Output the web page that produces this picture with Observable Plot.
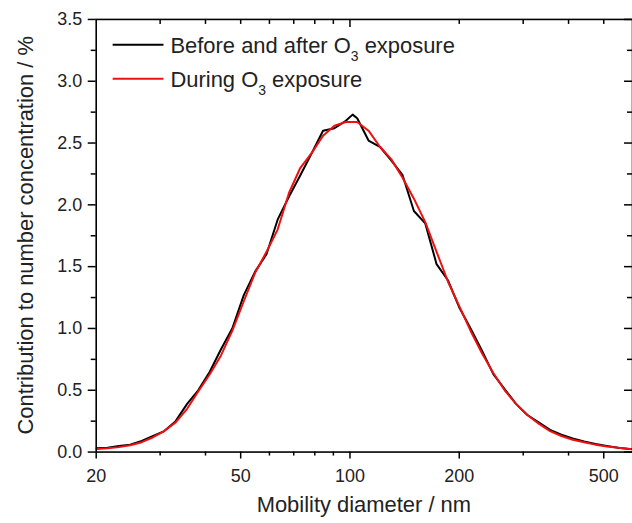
<!DOCTYPE html>
<html><head><meta charset="utf-8">
<script src="https://cdn.jsdelivr.net/npm/d3@7"></script>
<script src="https://cdn.jsdelivr.net/npm/@observablehq/plot@0.6"></script>
<style>
html,body{margin:0;padding:0;background:#fff;overflow:hidden;width:632px;height:523px}
#chart{position:relative;width:632px;height:523px;overflow:hidden}
</style></head><body><div id="chart"></div>
<script>
// Mobility diameter (nm)
const diameters = [20.0,21.5,23.1,24.8,26.7,28.7,30.8,33.1,35.6,38.2,41.1,44.1,47.4,51.0,54.8,58.9,63.2,68.0,73.0,78.5,84.3,90.6,97.4,101.7,104.7,112.5,120.9,129.9,139.6,150.0,161.2,173.2,186.1,200,214.9,231.0,248.2,266.7,286.6,308.0,331.0,355.7,382.2,410.7,441.4,474.3,509.7,547.7,588.6,632.5];
// Contribution to number concentration (%)
const beforeAfter = [0.03,0.035,0.05,0.06,0.09,0.13,0.17,0.25,0.39,0.50,0.65,0.83,1.00,1.27,1.46,1.60,1.88,2.07,2.24,2.42,2.60,2.62,2.68,2.73,2.70,2.52,2.47,2.36,2.24,1.95,1.85,1.52,1.39,1.17,1.00,0.82,0.63,0.51,0.39,0.30,0.24,0.18,0.14,0.11,0.085,0.065,0.05,0.035,0.025,0.02];
const during = [0.025,0.03,0.04,0.055,0.08,0.12,0.17,0.24,0.35,0.49,0.63,0.78,0.98,1.22,1.45,1.62,1.80,2.10,2.30,2.42,2.56,2.64,2.67,2.67,2.67,2.60,2.47,2.37,2.22,2.05,1.86,1.62,1.38,1.18,0.98,0.80,0.64,0.50,0.39,0.30,0.23,0.17,0.13,0.10,0.08,0.06,0.045,0.035,0.025,0.02];

const seriesLabels = ["Before and after O", "During O"];
const seriesColors = ["#000000", "#ee1111"];

const yMajorTicks = [0, 0.5, 1.0, 1.5, 2.0, 2.5, 3.0, 3.5];
const yMinorTicks = [0.25, 0.75, 1.25, 1.75, 2.25, 2.75, 3.25];
const xLabelTicks = [20, 50, 100, 200, 500];
const xMinorTicks = [30, 40, 60, 70, 80, 90, 300, 400];
const topLongTicks = [100];
const topShortTicks = [30, 40, 50, 60, 70, 80, 90, 200, 300, 400, 500];

const rowsA = diameters.map((d, i) => ({d, v: beforeAfter[i]}));
const rowsB = diameters.map((d, i) => ({d, v: during[i]}));

const W = 634, H = 523, mL = 96, mR = 0, mT = 19, mB = 70;
const FW = W - mL - mR, FH = H - mT - mB;
const tk = {stroke: "#000", strokeWidth: 1.5};
const id = d => d;

const plot = Plot.plot({
  width: W, height: H,
  marginLeft: mL, marginRight: mR, marginTop: mT, marginBottom: mB,
  style: {fontFamily: "'Liberation Sans', Arial, sans-serif", fontSize: "18px", color: "#000", background: "#fff"},
  x: {type: "log", domain: [20, 600], axis: null},
  y: {domain: [0, 3.5], axis: null},
  marks: [
    Plot.line(rowsA, {x: "d", y: "v", stroke: seriesColors[0], strokeWidth: 2, clip: true}),
    Plot.line(rowsB, {x: "d", y: "v", stroke: seriesColors[1], strokeWidth: 2, clip: true}),
    Plot.frame({stroke: "#000", strokeWidth: 1.6}),
    // left ticks (outward)
    Plot.tickY(yMajorTicks, {y: id, insetRight: FW - 8, dx: -8, ...tk}),
    Plot.tickY(yMinorTicks, {y: id, insetRight: FW - 5, dx: -5, ...tk}),
    // right ticks (inward)
    Plot.tickY(yMajorTicks, {y: id, insetLeft: FW - 8, ...tk}),
    Plot.tickY(yMinorTicks, {y: id, insetLeft: FW - 5, ...tk}),
    // bottom ticks (outward)
    Plot.tickX(xLabelTicks, {x: id, insetTop: FH - 7, dy: 7, ...tk}),
    Plot.tickX(xMinorTicks, {x: id, insetTop: FH - 4, dy: 4, ...tk}),
    // top ticks (inward)
    Plot.tickX(topLongTicks, {x: id, insetBottom: FH - 8, ...tk}),
    Plot.tickX(topShortTicks, {x: id, insetBottom: FH - 5, ...tk}),
    // tick labels
    Plot.text(yMajorTicks, {y: id, text: d => d3.format(".1f")(d), frameAnchor: "left", textAnchor: "end", dx: -14, fontSize: 18, fill: "#222"}),
    Plot.text(xLabelTicks, {x: id, text: d => String(d), frameAnchor: "bottom", lineAnchor: "top", dy: 17, fontSize: 18, fill: "#222"})
  ]
});
document.getElementById("chart").appendChild(plot);

const svg = d3.select(plot);
const tf = "#222";
// axis titles
svg.append("text").attr("x", 365).attr("y", 514).attr("text-anchor", "middle")
  .attr("font-size", 22).attr("fill", tf).text("Mobility diameter / nm");
svg.append("text").attr("transform", "translate(33,236) rotate(-90)").attr("text-anchor", "middle")
  .attr("font-size", 22).attr("fill", tf).text("Contribution to number concentration / %");
// legend
const legY = [45, 79];
seriesLabels.forEach((lab, i) => {
  svg.append("line").attr("x1", 113).attr("x2", 164).attr("y1", legY[i]).attr("y2", legY[i])
    .attr("stroke", seriesColors[i]).attr("stroke-width", 2);
  const t = svg.append("text").attr("x", 171).attr("y", legY[i] + 8).attr("text-anchor", "start")
    .attr("font-size", 22).attr("fill", tf);
  t.append("tspan").text(lab);
  t.append("tspan").attr("font-size", 14).attr("dy", 8).text("3");
  t.append("tspan").attr("dy", -8).text(" exposure");
});
</script></body></html>
